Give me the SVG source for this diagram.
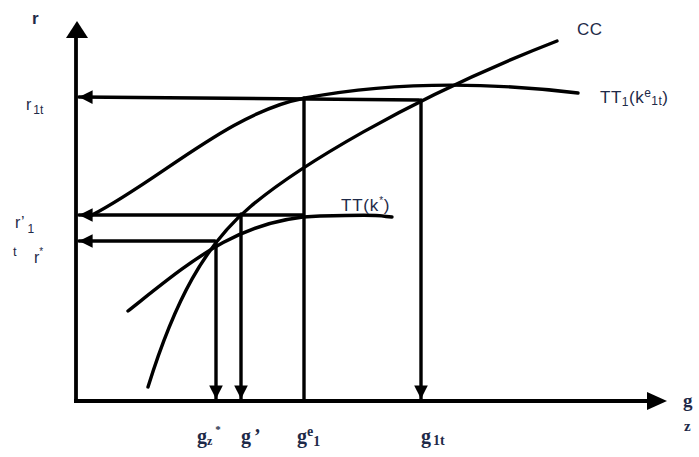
<svg xmlns="http://www.w3.org/2000/svg" width="699" height="457" viewBox="0 0 699 457">
<defs>
<style>
.ln{fill:none;stroke:#000;stroke-width:3.4;stroke-linecap:round}
.ax{fill:none;stroke:#000;stroke-width:3.8}
.sans{font-family:"Liberation Sans","DejaVu Sans",sans-serif;fill:#1e2a48}
.ser{font-family:"Liberation Serif","DejaVu Serif",serif;font-weight:bold;fill:#1e2a48}
</style>
<marker id="ah" viewBox="0 0 10 10" refX="10" refY="5" markerWidth="4" markerHeight="4" orient="auto" markerUnits="strokeWidth">
<path d="M0,0 L10,5 L0,10 z" fill="#000"/>
</marker>
</defs>
<rect width="699" height="457" fill="#fff"/>
<g id="axes">
<line class="ax" x1="76" y1="403" x2="76" y2="36"/>
<path d="M66,38 L77,21 L88,38 z" fill="#000"/>
<line class="ax" x1="74" y1="401" x2="650" y2="401"/>
<path d="M647,392 L667,401 L647,410 z" fill="#000"/>
</g>
<g id="connectors">
<path class="ln" d="M419,100 L79,97" marker-end="url(#ah)"/>
<path class="ln" d="M303,215 L79,215" marker-end="url(#ah)"/>
<path class="ln" d="M215,241 L79,241" marker-end="url(#ah)"/>
<path class="ln" d="M216,242 L216,399" marker-end="url(#ah)"/>
<path class="ln" d="M241,214 L241,399" marker-end="url(#ah)"/>
<path class="ln" d="M304,98 L304,400"/>
<path class="ln" d="M421,100 L421,399" marker-end="url(#ah)"/>
</g>
<g id="CC">
<path class="ln" d="M148,387 C175,300 205,245 250,207 S405,100 557,41"/>
<text class="sans" x="577" y="35" font-size="17" letter-spacing="0.5">CC</text>
</g>
<g id="TT1">
<path class="ln" d="M92,215 C160,180 230,112 305,98 C380,84 470,80 578,93"/>
<text class="sans" x="600" y="103" font-size="17" letter-spacing="0.5">TT<tspan font-size="12" dy="3">1</tspan><tspan dy="-3">(k</tspan><tspan font-size="12" dy="-6">e</tspan><tspan font-size="12" dy="8">1t</tspan><tspan dy="-2">)</tspan></text>
</g>
<g id="TT">
<path class="ln" d="M128,311 C190,262 240,218 320,216 S370,216 392,217"/>
<text class="sans" x="341" y="211" font-size="17" letter-spacing="0.8">TT(k<tspan font-size="10" dy="-7">*</tspan><tspan dy="7">)</tspan></text>
</g>
<g id="labels">
<text class="sans" x="32" y="24" font-size="17" font-weight="bold">r</text>
<text class="sans" x="26" y="110" font-size="16">r<tspan font-size="12" dx="2" dy="4">1t</tspan></text>
<text class="sans" x="15" y="228" font-size="16">r’<tspan font-size="12" dx="3" dy="5">1</tspan></text>
<text class="sans" x="13" y="256" font-size="13">t</text>
<text class="sans" x="34" y="263" font-size="16">r<tspan font-size="10" dy="-8">*</tspan></text>
<text class="ser" x="197" y="443" font-size="20">g<tspan font-size="12" dy="2">z</tspan><tspan font-size="11" dx="3" dy="-12">*</tspan></text>
<text class="ser" x="241" y="443" font-size="20">g<tspan dx="3">’</tspan></text>
<text class="ser" x="297" y="443" font-size="20">g<tspan font-size="14" dy="-7">e</tspan><tspan font-size="14" dy="10">1</tspan></text>
<text class="ser" x="421" y="443" font-size="20">g<tspan font-size="14" dx="2" dy="2">1t</tspan></text>
<text class="ser" x="683" y="407" font-size="19">g</text>
<text class="ser" x="684" y="431" font-size="15">z</text>
</g>
</svg>
